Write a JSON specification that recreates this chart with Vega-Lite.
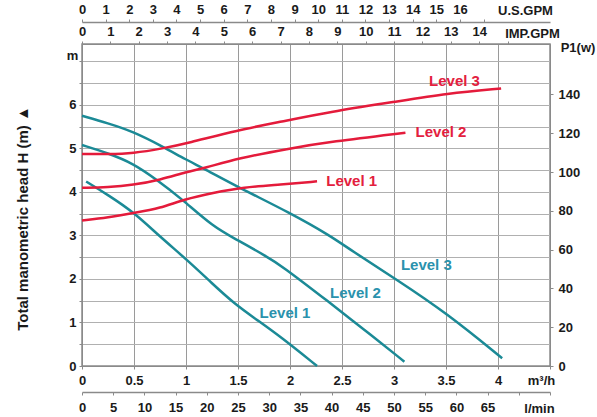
{
  "$schema": "https://vega.github.io/schema/vega-lite/v6.json",
  "width": 468,
  "height": 322,
  "autosize": {"type": "none"},
  "padding": {"left": 82, "top": 44, "right": 47, "bottom": 51},
  "background": "white",
  "config": {
    "view": {"stroke": "#8a8a8a", "strokeWidth": 1.5},
    "font": "Liberation Sans",
    "axis": {
      "labelFont": "Liberation Sans", "labelFontWeight": "bold", "labelFontSize": 13, "labelColor": "#1a1a1a",
      "titleFont": "Liberation Sans", "titleFontWeight": "bold", "titleFontSize": 13, "titleColor": "#1a1a1a",
      "domainColor": "#8a8a8a", "tickColor": "#8a8a8a", "tickSize": 3, "labelFlush": false, "labelOverlap": false
    }
  },
  "datasets": {
    "head": [
      {"level": "Level 3", "q": 0, "head": 5.75}, {"level": "Level 3", "q": 0.25, "head": 5.58}, {"level": "Level 3", "q": 0.49, "head": 5.39},
      {"level": "Level 3", "q": 0.78, "head": 5.04}, {"level": "Level 3", "q": 1.0, "head": 4.74}, {"level": "Level 3", "q": 1.17, "head": 4.54},
      {"level": "Level 3", "q": 1.5, "head": 4.11}, {"level": "Level 3", "q": 2.0, "head": 3.52}, {"level": "Level 3", "q": 2.39, "head": 2.99},
      {"level": "Level 3", "q": 2.58, "head": 2.67}, {"level": "Level 3", "q": 3.03, "head": 1.98}, {"level": "Level 3", "q": 3.51, "head": 1.21},
      {"level": "Level 3", "q": 4.04, "head": 0.18},
      {"level": "Level 2", "q": 0, "head": 5.08}, {"level": "Level 2", "q": 0.25, "head": 4.89}, {"level": "Level 2", "q": 0.49, "head": 4.66},
      {"level": "Level 2", "q": 0.72, "head": 4.28}, {"level": "Level 2", "q": 0.96, "head": 3.84}, {"level": "Level 2", "q": 1.26, "head": 3.2},
      {"level": "Level 2", "q": 1.49, "head": 2.9}, {"level": "Level 2", "q": 1.78, "head": 2.51}, {"level": "Level 2", "q": 1.91, "head": 2.32},
      {"level": "Level 2", "q": 2.38, "head": 1.46}, {"level": "Level 2", "q": 2.7, "head": 0.86}, {"level": "Level 2", "q": 3.1, "head": 0.1},
      {"level": "Level 1", "q": 0.04, "head": 4.24}, {"level": "Level 1", "q": 0.25, "head": 3.93}, {"level": "Level 1", "q": 0.5, "head": 3.53},
      {"level": "Level 1", "q": 0.75, "head": 2.97}, {"level": "Level 1", "q": 1.01, "head": 2.44}, {"level": "Level 1", "q": 1.25, "head": 1.9},
      {"level": "Level 1", "q": 1.46, "head": 1.44}, {"level": "Level 1", "q": 1.7, "head": 1.03}, {"level": "Level 1", "q": 1.91, "head": 0.67},
      {"level": "Level 1", "q": 2.26, "head": 0.0}
    ],
    "power": [
      {"level": "Level 3", "q": 0, "power": 109.3}, {"level": "Level 3", "q": 0.25, "power": 109.2}, {"level": "Level 3", "q": 0.49, "power": 109.6},
      {"level": "Level 3", "q": 0.78, "power": 112.2}, {"level": "Level 3", "q": 1.01, "power": 114.8}, {"level": "Level 3", "q": 1.5, "power": 121.6},
      {"level": "Level 3", "q": 1.91, "power": 125.9}, {"level": "Level 3", "q": 2.39, "power": 131.1}, {"level": "Level 3", "q": 3.01, "power": 136.2},
      {"level": "Level 3", "q": 3.51, "power": 140.5}, {"level": "Level 3", "q": 4.03, "power": 143.1},
      {"level": "Level 2", "q": 0, "power": 91.9}, {"level": "Level 2", "q": 0.25, "power": 92.2}, {"level": "Level 2", "q": 0.49, "power": 93.3},
      {"level": "Level 2", "q": 0.75, "power": 95.9}, {"level": "Level 2", "q": 1.01, "power": 100.2}, {"level": "Level 2", "q": 1.17, "power": 101.9},
      {"level": "Level 2", "q": 1.5, "power": 107.1}, {"level": "Level 2", "q": 2.0, "power": 112.2}, {"level": "Level 2", "q": 2.39, "power": 115.6},
      {"level": "Level 2", "q": 3.11, "power": 120.3},
      {"level": "Level 1", "q": 0, "power": 75.0}, {"level": "Level 1", "q": 0.25, "power": 76.5}, {"level": "Level 1", "q": 0.51, "power": 79.0},
      {"level": "Level 1", "q": 0.75, "power": 81.3}, {"level": "Level 1", "q": 0.98, "power": 85.9}, {"level": "Level 1", "q": 1.26, "power": 89.3},
      {"level": "Level 1", "q": 1.55, "power": 92.1}, {"level": "Level 1", "q": 1.91, "power": 93.5}, {"level": "Level 1", "q": 2.26, "power": 95.2}
    ],
    "headLabels": [
      {"text": "Level 3", "q": 3.311, "head": 2.32},
      {"text": "Level 2", "q": 2.63, "head": 1.67},
      {"text": "Level 1", "q": 1.952, "head": 1.225}
    ],
    "powerLabels": [
      {"text": "Level 3", "q": 3.582, "power": 147.1},
      {"text": "Level 2", "q": 3.452, "power": 120.8},
      {"text": "Level 1", "q": 2.593, "power": 95.5}
    ]
  },
  "resolve": {"scale": {"x": "independent", "y": "independent"}, "axis": {"x": "independent", "y": "independent"}},
  "layer": [
    {
      "data": {"name": "head"},
      "mark": {"type": "line", "interpolate": "basis", "strokeWidth": 2.5, "color": "#1b8a96"},
      "encoding": {
        "x": {"field": "q", "type": "quantitative",
          "scale": {"domain": [0, 4.5], "nice": false, "zero": false},
          "axis": {"orient": "bottom", "values": [0, 0.5, 1, 1.5, 2, 2.5, 3, 3.5, 4, 4.5],
            "labelExpr": "datum.value > 4.2 ? '' : '' + datum.value",
            "grid": true, "gridColor": "#9a9a9a", "labelPadding": 5,
            "title": "m³/h", "titleX": 459, "titleY": 14, "titleAngle": 0, "titleAlign": "center", "titleBaseline": "middle"}},
        "y": {"field": "head", "type": "quantitative",
          "scale": {"domain": [0, 7.4], "nice": false, "zero": false},
          "axis": {"orient": "left", "values": [0, 0.5, 1, 1.5, 2, 2.5, 3, 3.5, 4, 4.5, 5, 5.5, 6, 6.5, 7],
            "labelExpr": "(datum.value % 1 == 0 && datum.value <= 6) ? '' + datum.value : ''",
            "grid": true, "gridColor": "#b0b0b0", "labelPadding": 3,
            "title": "m", "titleX": -10, "titleY": 11, "titleAngle": 0, "titleAlign": "center", "titleBaseline": "middle"}},
        "detail": {"field": "level", "type": "nominal"}
      }
    },
    {
      "data": {"name": "headLabels"},
      "mark": {"type": "text", "font": "Liberation Sans", "fontWeight": "bold", "fontSize": 15, "color": "#2a92ad", "align": "center", "baseline": "middle"},
      "encoding": {
        "x": {"field": "q", "type": "quantitative", "scale": {"domain": [0, 4.5], "nice": false, "zero": false}, "axis": null},
        "y": {"field": "head", "type": "quantitative", "scale": {"domain": [0, 7.4], "nice": false, "zero": false}, "axis": null},
        "text": {"field": "text"}
      }
    },
    {
      "data": {"name": "power"},
      "mark": {"type": "line", "interpolate": "basis", "strokeWidth": 2.5, "color": "#e41b3b"},
      "encoding": {
        "x": {"field": "q", "type": "quantitative", "scale": {"domain": [0, 4.5], "nice": false, "zero": false}, "axis": null},
        "y": {"field": "power", "type": "quantitative",
          "scale": {"domain": [0, 166], "nice": false, "zero": false},
          "axis": {"orient": "right", "values": [0, 20, 40, 60, 80, 100, 120, 140], "grid": false, "labelPadding": 5,
            "title": "P1(w)", "titleX": 27.5, "titleY": 3, "titleAngle": 0, "titleAlign": "center", "titleBaseline": "middle"}},
        "detail": {"field": "level", "type": "nominal"}
      }
    },
    {
      "data": {"name": "powerLabels"},
      "mark": {"type": "text", "font": "Liberation Sans", "fontWeight": "bold", "fontSize": 15, "color": "#e3203e", "align": "center", "baseline": "middle"},
      "encoding": {
        "x": {"field": "q", "type": "quantitative", "scale": {"domain": [0, 4.5], "nice": false, "zero": false}, "axis": null},
        "y": {"field": "power", "type": "quantitative", "scale": {"domain": [0, 166], "nice": false, "zero": false}, "axis": null},
        "text": {"field": "text"}
      }
    },
    {
      "data": {"values": [{"lpm": 0}, {"lpm": 75}]},
      "mark": {"type": "rule", "opacity": 0},
      "encoding": {
        "x": {"field": "lpm", "type": "quantitative",
          "scale": {"domain": [0, 75], "nice": false, "zero": false},
          "axis": {"orient": "bottom", "offset": 26, "values": [0, 5, 10, 15, 20, 25, 30, 35, 40, 45, 50, 55, 60, 65, 70, 75],
            "labelExpr": "datum.value <= 65 ? '' + datum.value : ''", "grid": false, "labelPadding": 6, "domainWidth": 1.5,
            "title": "l/min", "titleX": 457, "titleY": 16, "titleAngle": 0, "titleAlign": "center", "titleBaseline": "middle"}}
      }
    },
    {
      "data": {"values": [{"usgpm": 0}, {"usgpm": 19.813}]},
      "mark": {"type": "rule", "opacity": 0},
      "encoding": {
        "x": {"field": "usgpm", "type": "quantitative",
          "scale": {"domain": [0, 19.813], "nice": false, "zero": false},
          "axis": {"orient": "top", "offset": 22, "values": [0, 1, 2, 3, 4, 5, 6, 7, 8, 9, 10, 11, 12, 13, 14, 15, 16, 17],
            "labelExpr": "datum.value <= 16 ? '' + datum.value : ''", "grid": false, "labelPadding": 3, "domainWidth": 1.5,
            "title": "U.S.GPM", "titleX": 443, "titleY": -12, "titleAngle": 0, "titleAlign": "center", "titleBaseline": "middle"}}
      }
    },
    {
      "data": {"values": [{"impgpm": 0}, {"impgpm": 16.498}]},
      "mark": {"type": "rule", "opacity": 0},
      "encoding": {
        "x": {"field": "impgpm", "type": "quantitative",
          "scale": {"domain": [0, 16.498], "nice": false, "zero": false},
          "axis": {"orient": "top", "offset": 0, "values": [0, 1, 2, 3, 4, 5, 6, 7, 8, 9, 10, 11, 12, 13, 14, 15],
            "labelExpr": "datum.value <= 14 ? '' + datum.value : ''", "grid": false, "labelPadding": 3,
            "title": "IMP.GPM", "titleX": 450, "titleY": -11, "titleAngle": 0, "titleAlign": "center", "titleBaseline": "middle"}}
      }
    },
    {
      "data": {"values": [{"h": 0}]},
      "mark": {"type": "rule", "opacity": 0},
      "encoding": {
        "y": {"field": "h", "type": "quantitative",
          "scale": {"domain": [0, 7.4], "nice": false, "zero": false},
          "axis": {"orient": "left", "labels": false, "ticks": false, "domain": false, "grid": false,
            "title": "Total manometric head H (m)  ▲", "titleFontSize": 15, "titleX": -60, "titleY": 174, "titleAngle": 270,
            "titleAlign": "center", "titleBaseline": "middle"}}
      }
    }
  ]
}
